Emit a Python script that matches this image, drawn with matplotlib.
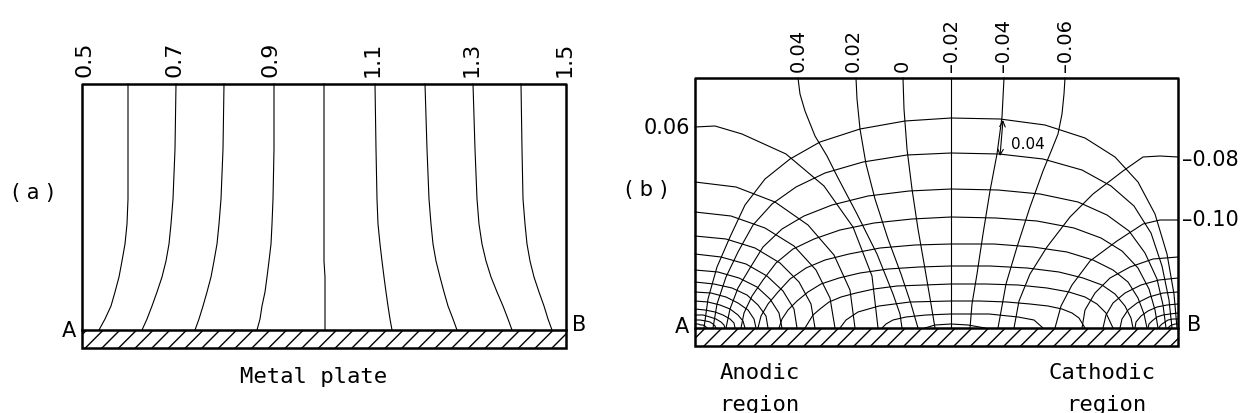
import matplotlib.pyplot as plt
from matplotlib.patches import Rectangle

# ---- panel (a): potential lines above a uniform plate (pixel units)
a_levels_y = [85, 150, 200, 225, 245, 262, 278, 293, 307, 320, 331]
a_lines_x = [
    [128, 128, 128, 127, 125, 122, 119, 115, 111, 105, 99],
    [176, 175, 173, 171, 169, 166, 162, 157, 152, 147, 142],
    [224, 223, 221, 219, 217, 214, 211, 207, 203, 199, 195],
    [274, 274, 273, 272, 271, 269, 267, 265, 262, 260, 257],
    [324, 324, 324, 324, 324, 324, 325, 325, 325, 325, 325],
    [375, 376, 377, 378, 380, 382, 384, 386, 388, 390, 392],
    [425, 427, 429, 431, 433, 436, 440, 444, 448, 453, 457],
    [473, 475, 477, 479, 482, 486, 491, 497, 503, 508, 512],
    [521, 522, 523, 525, 527, 530, 534, 539, 544, 548, 552],
]
a_labels = ['0.5', '0.7', '0.9', '1.1', '1.3', '1.5']
a_label_x = [85, 175, 271, 373, 472, 565]

# ---- panel (b): current lines (arches from anodic to cathodic region)
b_current = [
    [(704, 329), (708, 300), (717, 268), (730, 238), (745, 206), (765, 180), (790, 160), (820, 143), (860, 130), (905, 122), (951, 119),
     (1000, 120), (1045, 126), (1085, 139), (1115, 158), (1138, 183), (1155, 215), (1167, 255), (1174, 295), (1177, 329)],
    [(713, 329), (717, 305), (726, 278), (738, 253), (753, 226), (772, 205), (796, 188), (825, 174), (863, 163), (907, 156), (951, 154),
     (999, 155), (1043, 160), (1082, 171), (1111, 187), (1134, 207), (1151, 234), (1162, 267), (1169, 301), (1172, 329)],
    [(726, 329), (730, 310), (738, 289), (750, 269), (763, 248), (782, 230), (804, 217), (832, 206), (868, 197), (909, 192), (951, 190),
     (998, 191), (1040, 195), (1078, 203), (1107, 216), (1129, 232), (1145, 254), (1157, 280), (1163, 306), (1166, 329)],
    [(741, 329), (744, 314), (752, 297), (763, 281), (776, 264), (793, 250), (814, 240), (840, 231), (874, 224), (912, 220), (951, 218),
     (996, 219), (1037, 222), (1074, 229), (1101, 239), (1122, 252), (1138, 269), (1149, 290), (1155, 311), (1158, 329)],
    [(758, 329), (761, 317), (768, 305), (778, 293), (790, 280), (806, 269), (825, 261), (849, 255), (880, 249), (915, 246), (951, 245),
     (994, 245), (1033, 248), (1067, 253), (1093, 261), (1113, 271), (1128, 283), (1138, 299), (1144, 315), (1147, 329)],
    [(779, 329), (782, 320), (788, 311), (797, 302), (808, 293), (821, 285), (839, 279), (860, 274), (888, 270), (919, 268), (951, 267),
     (990, 267), (1027, 269), (1059, 273), (1083, 279), (1102, 286), (1115, 295), (1125, 307), (1131, 319), (1133, 329)],
    [(805, 329), (813, 316), (820, 310), (829, 303), (841, 298), (856, 294), (874, 290), (897, 287), (924, 286), (951, 285),
     (986, 285), (1018, 286), (1047, 289), (1069, 293), (1085, 298), (1097, 305), (1106, 314), (1113, 329)],
    [(840, 329), (846, 321), (858, 313), (879, 307), (910, 303), (951, 302),
     (980, 302), (1007, 303), (1030, 305), (1048, 307), (1062, 310), (1072, 314), (1079, 319), (1085, 329)],
    [(882, 329), (886, 325), (893, 321), (906, 318), (926, 316), (951, 315),
     (989, 315), (1018, 318), (1034, 321), (1043, 329)],
    [(925, 329), (935, 326), (951, 325), (968, 326), (985, 329)],
]

# ---- panel (b): equipotentials around the anode end A (from the left edge)
b_pot_left = [
    [(695, 128), (715, 127), (742, 135), (786, 155), (824, 187), (853, 228), (872, 277), (878, 329)],
    [(695, 183), (736, 188), (775, 203), (808, 226), (834, 256), (850, 291), (855, 329)],
    [(695, 213), (731, 217), (765, 229), (794, 247), (816, 271), (830, 299), (835, 329)],
    [(695, 237), (726, 240), (755, 249), (780, 264), (799, 283), (811, 305), (815, 329)],
    [(695, 255), (721, 258), (746, 265), (767, 277), (783, 292), (794, 310), (797, 329)],
    [(695, 271), (718, 273), (739, 279), (757, 288), (770, 300), (779, 314), (782, 329)],
    [(695, 283), (714, 285), (732, 289), (747, 296), (758, 306), (766, 317), (768, 329)],
    [(695, 293), (711, 294), (726, 298), (738, 304), (748, 311), (754, 320), (756, 329)],
    [(695, 302), (708, 303), (720, 306), (730, 310), (738, 316), (743, 322), (745, 329)],
    [(695, 310), (705, 311), (715, 313), (723, 316), (730, 320), (734, 324), (735, 329)],
    [(695, 316), (703, 316), (710, 318), (716, 320), (721, 323), (724, 326), (725, 329)],
    [(695, 321), (700, 321), (706, 322), (710, 323), (713, 325), (715, 327), (716, 329)],
    [(695, 325), (698, 325), (701, 326), (703, 326), (705, 327), (707, 329)],
]

# ---- panel (b): equipotentials starting on the top edge
b_pot_top = [
    [(798, 79), (800, 95), (805, 112), (815, 137), (827, 157), (837, 177), (857, 215), (877, 255), (893, 295), (900, 315), (902, 329)],
    [(856, 79), (857, 100), (860, 130), (866, 165), (875, 200), (888, 240), (901, 275), (911, 305), (918, 329)],
    [(903, 79), (904, 110), (907, 150), (912, 190), (918, 230), (925, 270), (931, 305), (935, 329)],
    [(951, 79), (951, 329)],
    [(1004, 79), (1002, 118), (997, 155), (990, 192), (983, 235), (977, 275), (972, 305), (970, 329)],
    [(1065, 79), (1064, 95), (1062, 115), (1058, 135), (1052, 150), (1043, 172), (1030, 208), (1017, 248), (1006, 285), (998, 329)],
]
b_top_labels = ['0.04', '0.02', '0', '–0.02', '–0.04', '–0.06']
b_top_label_x = [798, 853, 902, 951, 1004, 1065]

# ---- panel (b): equipotentials around the cathode end B (from the right edge)
b_pot_right = [
    [(1178, 158), (1160, 157), (1143, 158), (1123, 172), (1093, 195), (1070, 218), (1047, 248), (1030, 275), (1019, 302), (1014, 329)],
    [(1178, 221), (1160, 221), (1143, 225), (1117, 242), (1090, 262), (1072, 286), (1061, 307), (1055, 329)],
    [(1178, 258), (1153, 260), (1130, 268), (1110, 279), (1095, 294), (1085, 311), (1082, 329)],
    [(1178, 279), (1159, 281), (1141, 286), (1125, 294), (1113, 304), (1106, 316), (1103, 329)],
    [(1178, 293), (1163, 294), (1149, 298), (1137, 304), (1128, 311), (1122, 320), (1120, 329)],
    [(1178, 305), (1167, 306), (1157, 308), (1148, 312), (1141, 317), (1136, 323), (1135, 329)],
    [(1178, 314), (1170, 315), (1163, 316), (1157, 318), (1152, 322), (1149, 325), (1148, 329)],
    [(1178, 320), (1173, 320), (1168, 321), (1165, 323), (1162, 325), (1160, 327), (1159, 329)],
    [(1178, 325), (1175, 325), (1172, 326), (1170, 327), (1168, 329)],
]
b_side_labels = {'0.06': (690, 128, 'right'), '–0.08': (1182, 160, 'left'), '–0.10': (1182, 220, 'left')}

plt.rcParams['hatch.linewidth'] = 1.0

fig = plt.figure(figsize=(12.4, 4.14), dpi=100)
ax = fig.add_axes([0, 0, 1, 1])
ax.set_xlim(0, 1240)
ax.set_ylim(414, 0)
ax.axis('off')


def frame(left, right, top, plate, bottom):
    ax.plot([left, left, right, right], [plate, top, top, plate], color='k', lw=1.8)
    ax.add_patch(Rectangle((left, plate), right - left, bottom - plate,
                           fill=False, hatch='//', lw=1.8, edgecolor='k'))


def draw(curves):
    for c in curves:
        ax.plot([p[0] for p in c], [p[1] for p in c], color='k', lw=0.8)


# panel (a)
frame(82, 566, 85, 331, 349)
for xs in a_lines_x:
    ax.plot(xs, a_levels_y, color='k', lw=0.8)
for lab, x in zip(a_labels, a_label_x):
    ax.text(x, 77, lab, rotation=90, ha='center', va='bottom', fontsize=16)
ax.text(33, 193, '( a )', ha='center', va='center', fontsize=15)
ax.text(69, 331, 'A', ha='center', va='center', fontsize=15)
ax.text(579, 325, 'B', ha='center', va='center', fontsize=15)
ax.text(314, 377, 'Metal plate', ha='center', va='center', fontsize=16, family='DejaVu Sans Mono')

# panel (b)
frame(695, 1178, 79, 329, 347)
draw(b_current)
draw(b_pot_left)
draw(b_pot_top)
draw(b_pot_right)
for lab, x in zip(b_top_labels, b_top_label_x):
    ax.text(x, 72, lab, rotation=90, ha='center', va='bottom', fontsize=14)
for lab, (x, y, ha) in b_side_labels.items():
    ax.text(x, y, lab, ha=ha, va='center', fontsize=15)
ax.annotate('', xy=(1003, 121), xytext=(1000, 157),
            arrowprops=dict(arrowstyle='<->', lw=0.8, color='k', shrinkA=0, shrinkB=0))
ax.text(1011, 145, '0.04', ha='left', va='center', fontsize=11)
ax.text(646, 190, '( b )', ha='center', va='center', fontsize=15)
ax.text(682, 327, 'A', ha='center', va='center', fontsize=15)
ax.text(1194, 325, 'B', ha='center', va='center', fontsize=15)
ax.text(760, 373, 'Anodic', ha='center', va='center', fontsize=16, family='DejaVu Sans Mono')
ax.text(759, 405, 'region', ha='center', va='center', fontsize=16, family='DejaVu Sans Mono')
ax.text(1102, 373, 'Cathodic', ha='center', va='center', fontsize=16, family='DejaVu Sans Mono')
ax.text(1106, 405, 'region', ha='center', va='center', fontsize=16, family='DejaVu Sans Mono')

fig.savefig('out.png', dpi=100)
